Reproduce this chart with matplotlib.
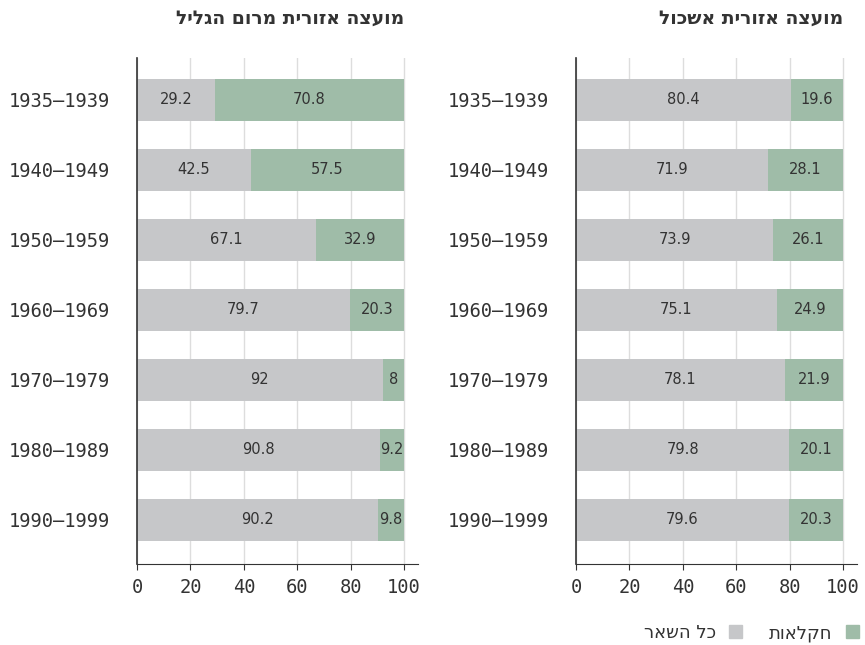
import matplotlib
matplotlib.use('Agg')
from matplotlib import pyplot as plt
from matplotlib.patches import Patch

plt.rcParams['font.family'] = ['DejaVu Sans']

periods = ['1935–1939', '1940–1949', '1950–1959', '1960–1969',
           '1970–1979', '1980–1989', '1990–1999']
galil_other = [29.2, 42.5, 67.1, 79.7, 92, 90.8, 90.2]
galil_agri = [70.8, 57.5, 32.9, 20.3, 8, 9.2, 9.8]
eshkol_other = [80.4, 71.9, 73.9, 75.1, 78.1, 79.8, 79.6]
eshkol_agri = [19.6, 28.1, 26.1, 24.9, 21.9, 20.1, 20.3]

title_galil = 'מועצה אזורית מרום הגליל'
title_eshkol = 'מועצה אזורית אשכול'
label_other = 'כל השאר'
label_agri = 'חקלאות'

GRAY = '#c6c7c9'
GREEN = '#9fbca8'
TXT = '#333333'


def heb(s):
    # matplotlib has no bidi, so flip to visual order
    return s[::-1]


def fmt(v):
    return ('%g' % v)


def draw_panel(ax, other, agri, title, right_edge):
    y = list(range(len(periods)))
    ax.barh(y, other, height=0.6, color=GRAY, zorder=2)
    ax.barh(y, agri, left=other, height=0.6, color=GREEN, zorder=2)
    for i in y:
        ax.text(other[i] / 2, i, fmt(other[i]), ha='center', va='center',
                fontsize=10.5, color=TXT, zorder=3)
        ax.text(other[i] + agri[i] / 2, i, fmt(agri[i]), ha='center', va='center',
                fontsize=10.5, color=TXT, zorder=3)
    ax.set_xlim(0, 105.2)
    ax.set_ylim(6.63, -0.6)
    ax.set_xticks([0, 20, 40, 60, 80, 100])
    ax.set_yticks(y)
    ax.set_yticklabels(periods, fontfamily='DejaVu Sans Mono', fontsize=13.5, color=TXT)
    for lab in ax.get_xticklabels():
        lab.set_fontfamily('DejaVu Sans Mono')
    ax.tick_params(axis='x', labelsize=13.5, colors=TXT, length=4, width=0.8, pad=6)
    ax.tick_params(axis='y', length=0, pad=19.5)
    ax.grid(axis='x', color='#dddddd', linewidth=1, zorder=0)
    for s in ['top', 'right']:
        ax.spines[s].set_visible(False)
    ax.spines['left'].set_color('#333333')
    ax.spines['left'].set_linewidth(1.2)
    ax.spines['bottom'].set_color('#333333')
    ax.spines['bottom'].set_linewidth(0.8)
    fig.text(right_edge, 1 - 18 / 645, heb(title), ha='right', va='center',
             fontsize=13.5, fontweight='bold', color=TXT)


fig = plt.figure(figsize=(8.65, 6.45), dpi=100)
ax1 = fig.add_axes([137 / 865, 1 - 564 / 645, 281 / 865, 506 / 645])
ax2 = fig.add_axes([576 / 865, 1 - 564 / 645, 281 / 865, 506 / 645])

draw_panel(ax1, galil_other, galil_agri, title_galil, 404 / 865)
draw_panel(ax2, eshkol_other, eshkol_agri, title_eshkol, 843 / 865)

# ימין לשמאל: הריבוע אחרי הטקסט
handles = [Patch(color=GRAY, label=heb(label_other)),
           Patch(color=GREEN, label=heb(label_agri))]
fig.legend(handles=handles, loc='center right', bbox_to_anchor=(1.0, 1 - 633 / 645),
           ncol=2, frameon=False, markerfirst=False, handlelength=0.7,
           handleheight=0.7, handletextpad=0.75, columnspacing=1.5,
           borderaxespad=0.15, borderpad=0.2,
           fontsize=13, labelcolor=TXT)

fig.savefig('out.png', dpi=100)
